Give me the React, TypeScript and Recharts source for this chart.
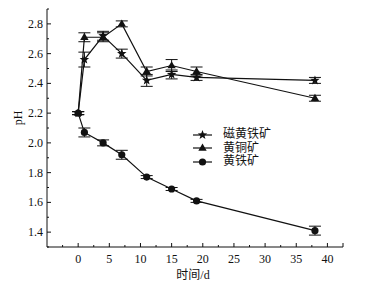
import React from 'react';
import { LineChart, Line, XAxis, YAxis, ErrorBar, Legend } from 'recharts';

const days = [0, 1, 4, 7, 11, 15, 19, 38];
const pyrrhotite = [2.2, 2.56, 2.72, 2.6, 2.42, 2.46, 2.44, 2.42];
const pyrrhotiteErr = [0.01, 0.05, 0.03, 0.03, 0.04, 0.03, 0.02, 0.02];
const chalcopyrite = [2.2, 2.71, 2.71, 2.8, 2.48, 2.52, 2.48, 2.3];
const chalcopyriteErr = [0.01, 0.03, 0.03, 0.02, 0.03, 0.04, 0.03, 0.02];
const pyrite = [2.2, 2.07, 2.0, 1.92, 1.77, 1.69, 1.61, 1.41];
const pyriteErr = [0.01, 0.03, 0.02, 0.03, 0.01, 0.01, 0.01, 0.03];

const seriesNames = ['磁黄铁矿', '黄铜矿', '黄铁矿'];
const seriesShapes = ['star', 'triangle', 'circle'];

const xMajorTicks = [0, 5, 10, 15, 20, 25, 30, 35, 40];
const xMinorTicks = [-2.5, 2.5, 7.5, 12.5, 17.5, 22.5, 27.5, 32.5, 37.5, 42.5];
const yMajorTicks = [1.4, 1.6, 1.8, 2.0, 2.2, 2.4, 2.6, 2.8];
const yMinorTicks = [1.3, 1.5, 1.7, 1.9, 2.1, 2.3, 2.5, 2.7, 2.9];

const data = days.map((d, i) => ({
  day: d,
  s0: pyrrhotite[i],
  e0: pyrrhotiteErr[i],
  s1: chalcopyrite[i],
  e1: chalcopyriteErr[i],
  s2: pyrite[i],
  e2: pyriteErr[i],
}));

const SERIF = "'Liberation Serif', 'Times New Roman', serif";
const CJK = "'Liberation Serif', 'Noto Sans CJK SC', serif";
const INK = '#111';

function Marker({ shape, cx, cy }: { shape: string; cx: number; cy: number }) {
  if (cx == null || cy == null || isNaN(cx) || isNaN(cy)) return null;
  if (shape === 'circle') {
    return <circle cx={cx} cy={cy} r={3.6} fill={INK} stroke="none" />;
  }
  if (shape === 'triangle') {
    const r = 4.4;
    const pts = [
      [cx, cy - r],
      [cx + r * 0.95, cy + r * 0.6],
      [cx - r * 0.95, cy + r * 0.6],
    ]
      .map((p) => p.join(','))
      .join(' ');
    return <polygon points={pts} fill={INK} stroke="none" />;
  }
  const outer = 5;
  const inner = 2.1;
  const pts: string[] = [];
  for (let k = 0; k < 10; k++) {
    const r = k % 2 === 0 ? outer : inner;
    const a = -Math.PI / 2 + (k * Math.PI) / 5;
    pts.push(`${cx + r * Math.cos(a)},${cy + r * Math.sin(a)}`);
  }
  return <polygon points={pts.join(' ')} fill={INK} stroke="none" />;
}

const makeDot = (shape: string) => (props: any) => (
  <Marker key={`${shape}-${props.index}`} shape={shape} cx={props.cx} cy={props.cy} />
);

function YTick(props: any) {
  const { x, y, payload } = props;
  const v = payload.value;
  const major = yMajorTicks.some((t) => Math.abs(t - v) < 1e-6);
  return (
    <g>
      <line x1={x} x2={x + (major ? 4 : 2)} y1={y} y2={y} stroke={INK} strokeWidth={1} />
      {major && (
        <text x={x - 4} y={y + 4} textAnchor="end" fontSize={12} style={{ fontFamily: SERIF }} fill={INK}>
          {v.toFixed(1)}
        </text>
      )}
    </g>
  );
}

function XTick(props: any) {
  const { x, y, payload } = props;
  const v = payload.value;
  const major = xMajorTicks.includes(v) || v === 42.5;
  const labeled = xMajorTicks.includes(v);
  return (
    <g>
      <line x1={x} x2={x} y1={y} y2={y - (major ? 4 : 2)} stroke={INK} strokeWidth={1} />
      {labeled && (
        <text x={x} y={y + 16} textAnchor="middle" fontSize={12} style={{ fontFamily: SERIF }} fill={INK}>
          {v}
        </text>
      )}
    </g>
  );
}

function LegendContent() {
  return (
    <div style={{ fontFamily: CJK, fontSize: 12, color: INK }}>
      {seriesNames.map((name, i) => (
        <div key={name} style={{ display: 'flex', alignItems: 'center', height: 13.5 }}>
          <svg width={20} height={12} style={{ display: 'block' }}>
            <line x1={0} x2={19} y1={6} y2={6} stroke={INK} strokeWidth={1.2} />
            <Marker shape={seriesShapes[i]} cx={9.5} cy={6} />
          </svg>
          <span style={{ marginLeft: 10, lineHeight: '13.5px' }}>{name}</span>
        </div>
      ))}
    </div>
  );
}

export default function App() {
  return (
    <div style={{ position: 'absolute', left: 0, top: 0, width: 378, height: 296, background: '#fff' }}>
      <LineChart
        width={378}
        height={296}
        data={data}
        margin={{ top: 9, right: 35, left: 0, bottom: 0 }}
      >
        <XAxis
          dataKey="day"
          type="number"
          domain={[-5, 42.5]}
          ticks={[...xMajorTicks, ...xMinorTicks].sort((a, b) => a - b)}
          interval={0}
          tickSize={0}
          tickMargin={0}
          tickLine={false}
          tick={<XTick />}
          height={49}
          stroke={INK}
          allowDataOverflow
          label={{
            content: () => (
              <text x={193} y={279} textAnchor="middle" fontSize={12} style={{ fontFamily: CJK }} fill={INK}>
                时间/d
              </text>
            ),
          }}
        />
        <YAxis
          type="number"
          domain={[1.3, 2.9]}
          ticks={[...yMajorTicks, ...yMinorTicks].sort((a, b) => a - b)}
          interval={0}
          tickSize={0}
          tickMargin={0}
          tickLine={false}
          tick={<YTick />}
          width={47}
          stroke={INK}
          allowDataOverflow
          label={{
            content: () => (
              <text
                x={22}
                y={118}
                textAnchor="middle"
                fontSize={12}
                style={{ fontFamily: SERIF }}
                fill={INK}
                transform="rotate(-90, 22, 118)"
              >
                pH
              </text>
            ),
          }}
        />
        <Legend
          layout="vertical"
          align="center"
          verticalAlign="middle"
          content={<LegendContent />}
          wrapperStyle={{ position: 'absolute', left: 193, top: 128, width: 90 }}
        />
        {[0, 1, 2].map((i) => (
          <Line
            key={i}
            dataKey={`s${i}`}
            name={seriesNames[i]}
            stroke={INK}
            strokeWidth={1.2}
            isAnimationActive={false}
            dot={makeDot(seriesShapes[i])}
            activeDot={false}
          >
            <ErrorBar dataKey={`e${i}`} width={6} stroke={INK} strokeWidth={1} direction="y" />
          </Line>
        ))}
      </LineChart>
    </div>
  );
}
